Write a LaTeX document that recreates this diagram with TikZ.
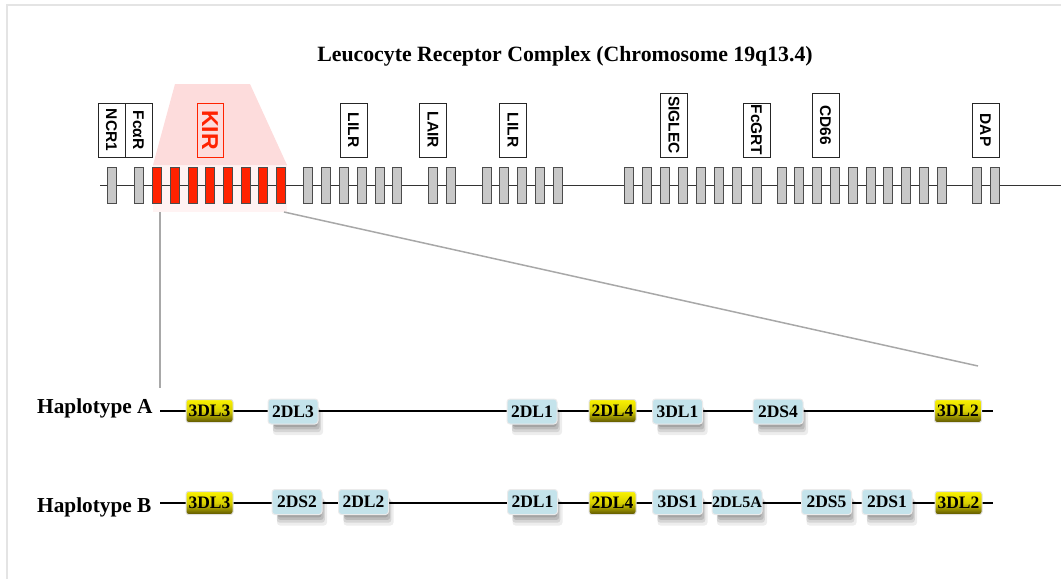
\documentclass[tikz,border=0pt]{standalone}
\usepackage{fontspec}
\setmainfont{Liberation Serif}
\newfontfamily\arialf{Liberation Sans}
\usetikzlibrary{shadows}
\definecolor{framegray}{HTML}{E4E4E4}
\definecolor{genegray}{HTML}{C8C8C8}
\definecolor{kirred}{HTML}{FF2200}
\definecolor{pinkA}{HTML}{FDDCDC}
\definecolor{pinkB}{HTML}{FFF3F3}
\definecolor{lblue}{HTML}{C4E3EB}
\definecolor{yelt}{HTML}{FAF200}
\definecolor{yelm}{HTML}{D8D000}
\definecolor{yelb}{HTML}{5A5200}
\definecolor{linegray}{HTML}{A8A8A8}
\begin{document}
\begin{tikzpicture}[x=1pt,y=-1pt,
  exon/.style={draw=black!70, fill=genegray, line width=0.8pt, minimum width=9.5pt, minimum height=36pt, inner sep=0pt},
  kirexon/.style={exon, fill=kirred},
  glabel/.style={draw=black!85, fill=white, line width=0.8pt, rotate=-90, minimum height=27pt, inner sep=0pt, font=\arialf\bfseries\fontsize{15.5}{17}\selectfont},
  kirlabel/.style={draw=kirred, line width=0.8pt, rotate=-90, minimum height=26pt, minimum width=54pt, inner sep=0pt, text=kirred, font=\arialf\bfseries\fontsize{23}{26}\selectfont},
  hapline/.style={black, line width=1.4pt},
  zoomline/.style={linegray, line width=1.5pt},
  hapname/.style={anchor=base west, inner sep=0pt, font=\bfseries\fontsize{21.3}{24}\selectfont},
  ygene/.style={rounded corners=2.5pt, draw=black!12, line width=1pt, top color=yelt, bottom color=yelb, middle color=yelm, minimum width=47pt, minimum height=23pt, inner sep=0pt, font=\bfseries\fontsize{17.5}{19}\selectfont},
  bgene/.style={rounded corners=3pt, draw=black!8, line width=1pt, fill=lblue, minimum width=50pt, minimum height=25pt, inner sep=0pt, font=\bfseries\fontsize{17.5}{19}\selectfont,
     general shadow={shadow xshift=5pt, shadow yshift=-11pt, fill=black, opacity=0.07},
     general shadow={shadow xshift=4pt, shadow yshift=-9pt, shadow scale=0.96, fill=black, opacity=0.10},
     general shadow={shadow xshift=4pt, shadow yshift=-7pt, shadow scale=0.92, fill=black, opacity=0.12},
     general shadow={shadow xshift=3pt, shadow yshift=-5pt, shadow scale=0.88, fill=black, opacity=0.12}},
  ttl/.style={inner sep=0pt, font=\bfseries\fontsize{21.8}{25}\selectfont}
]
\useasboundingbox (0,0) rectangle (1061,579);
% frame
\coordinate (fa) at (7,579);
\coordinate (fb) at (7,5);
\coordinate (fc) at (1061,5);
\draw[framegray, line width=2pt] (fa) -- (fb) -- (fc);

% title
\node[ttl] (title) at (565,56) {Leucocyte Receptor Complex (Chromosome 19q13.4)};

% pink highlight
\fill[pinkB] (153,165) rectangle (287,212);
\fill[pinkA] (175,84) -- (250,84) -- (287,165) -- (153,165) -- cycle;

% chromosome line
\coordinate (cs) at (100,185);
\coordinate (ce) at (1061,185);
\draw[black!80, line width=1pt] (cs) -- (ce);

\foreach \x [count=\i] in {107,134,303,321,339,357,375,392,428,446,482,499,517,535,553,624,642,660,678,696,714,732,752,777,794,812,830,848,866,883,901,919,937,972,990}
  \node[exon] (g\i) at ({\x+4.75},185) {};
\foreach \x [count=\i] in {152,170,188,205,223,241,258,276}
  \node[kirexon] (k\i) at ({\x+4.75},185) {};

% labels
\node[glabel, minimum width=54pt] (ncr) at (111.5,130) {NCR1};
\node[glabel, minimum width=54pt] (fca) at (138.5,130) {FcαR};
\node[kirlabel] (kir) at (210,130) {KIR};
\node[glabel, minimum width=54pt] (lilr1) at (353.5,130) {LILR};
\node[glabel, minimum width=54pt] (lair) at (433,130) {LAIR};
\node[glabel, minimum width=54pt] (lilr2) at (513,130) {LILR};
\node[glabel, minimum width=64pt] (siglec) at (674,125) {SIGLEC};
\node[glabel, minimum width=54pt] (fcgrt) at (756.5,130) {FcGRT};
\node[glabel, minimum width=64pt] (cd66) at (825.5,125) {CD66};
\node[glabel, minimum width=54pt] (dap) at (985.5,130) {DAP};

% zoom lines
\coordinate (z1a) at (160,212);
\coordinate (z1b) at (160,388);
\coordinate (z2a) at (284,212);
\coordinate (z2b) at (978,366);
\draw[zoomline] (z1a) -- (z1b);
\draw[zoomline] (z2a) -- (z2b);

% Haplotype A
\node[hapname] (hapA) at (37,413) {Haplotype A};
\coordinate (aS) at (160,411);
\coordinate (aE) at (993,411);
\draw[hapline] (aS) -- (aE);
\node[ygene] (a1) at (209.5,411) {3DL3};
\node[bgene] (a2) at (293,411.5) {2DL3};
\node[bgene] (a3) at (532,411.5) {2DL1};
\node[ygene] (a4) at (612.5,411) {2DL4};
\node[bgene] (a5) at (677.5,411.5) {3DL1};
\node[bgene] (a6) at (778,411.5) {2DS4};
\node[ygene] (a7) at (958,411) {3DL2};

% Haplotype B
\node[hapname] (hapB) at (37,512) {Haplotype B};
\coordinate (bS) at (160,503);
\coordinate (bE) at (993,503);
\draw[hapline] (bS) -- (bE);
\node[ygene] (b1) at (209.5,503) {3DL3};
\node[bgene] (b2) at (297,502) {2DS2};
\node[bgene] (b3) at (363.5,502) {2DL2};
\node[bgene] (b4) at (532.5,502) {2DL1};
\node[ygene] (b5) at (612.5,503) {2DL4};
\node[bgene] (b6) at (677.5,502) {3DS1};
\node[bgene, font=\bfseries\fontsize{16}{18}\selectfont] (b7) at (737,502) {2DL5A};
\node[bgene] (b8) at (826.5,502) {2DS5};
\node[bgene] (b9) at (887,502) {2DS1};
\node[ygene] (b10) at (958.5,503) {3DL2};
\end{tikzpicture}
\end{document}
